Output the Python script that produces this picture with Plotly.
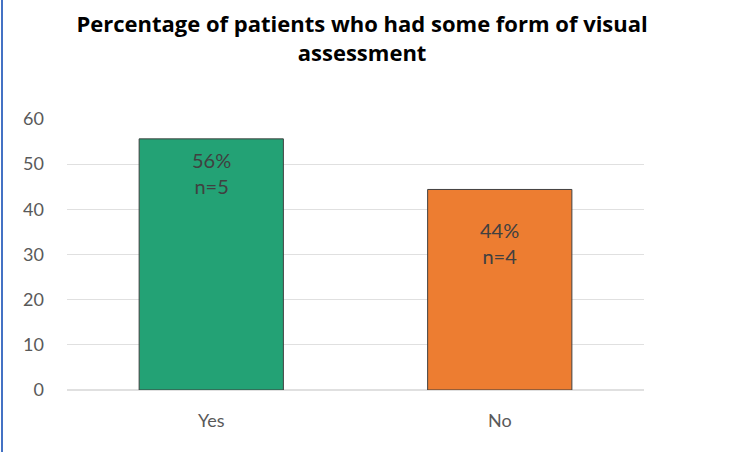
import plotly.graph_objects as go

categories = ["Yes", "No"]
values = [55.6, 44.4]
pct_labels = ["56%", "44%"]
n_labels = ["n=5", "n=4"]
label_y = [48.0, 32.5]
colors = ["#23A275", "#ED7D31"]
title = "Percentage of patients who had some form of visual<br>assessment"

W, H = 736, 452
ml, mr, mt, mb = 67, 92, 119, 62
FONT = "Lato"

fig = go.Figure()
fig.add_trace(go.Bar(
    x=categories, y=values,
    marker=dict(color=colors, line=dict(color="#404040", width=1)),
    width=0.5, hoverinfo="skip",
))
for c, p, n, ly in zip(categories, pct_labels, n_labels, label_y):
    fig.add_annotation(x=c, y=ly, text=f"{p}<br>{n}", showarrow=False,
                       font=dict(family=FONT, size=20, color="#404040"),
                       align="center")

fig.add_shape(type="line", xref="paper", yref="paper",
              x0=-(ml - 2) / (W - ml - mr), x1=-(ml - 2) / (W - ml - mr),
              y0=-mb / (H - mt - mb), y1=1 + mt / (H - mt - mb),
              line=dict(color="#4472C4", width=2))

fig.update_layout(
    width=W, height=H,
    margin=dict(l=ml, r=mr, t=mt, b=mb),
    paper_bgcolor="white", plot_bgcolor="white",
    title=dict(text=f"<b>{title}</b>", x=0.492, xanchor="center",
               y=1 - 32 / H, yanchor="middle",
               font=dict(family="Open Sans", size=22, color="black")),
    showlegend=False,
    bargap=0.5,
    xaxis=dict(showgrid=False, showline=False, ticks="",
               tickfont=dict(family=FONT, size=18, color="#595959"),
               ticklabelstandoff=18),
    yaxis=dict(range=[0, 60], dtick=10, showgrid=True, gridcolor="#E0E0E0", gridwidth=1,
               zeroline=True, zerolinecolor="#E0E0E0", showline=False, ticks="",
               tickfont=dict(family=FONT, size=18, color="#595959"),
               ticklabelstandoff=22),
)

fig.write_html("out.html", config={"displayModeBar": False},
               post_script="document.body.style.margin='0';")
